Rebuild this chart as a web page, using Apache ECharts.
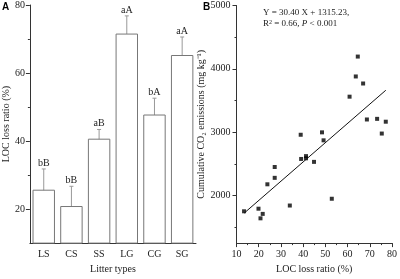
<!DOCTYPE html>
<html><head><meta charset="utf-8">
<script src="https://cdn.jsdelivr.net/npm/echarts@6/dist/echarts.min.js"></script>
<style>html,body{margin:0;padding:0;background:#fff}#c{width:400px;height:279px}</style>
</head><body><div id="c"></div>
<script>
var categories = ['LS','CS','SS','LG','CG','SG'];
var lossMeans = [25.7, 20.9, 40.7, 71.6, 47.8, 65.3];
var lossErrors = [6.1, 5.8, 2.7, 5.2, 4.8, 5.3];
var letters = ['bB','bB','aB','aA','bA','aA'];
var yTicksA = [20, 40, 60, 80];
var yMinorA = [30, 50, 70];

var locX = [64.6, 63.7, 67.0, 60.9, 68.7, 73.3, 77.2, 38.9, 48.5, 75.4, 49.2, 39.1, 41.3, 41.3, 44.9, 27.2, 27.2, 23.9, 52.9, 34.0, 13.4, 19.9, 21.8, 20.8];
var co2Y = [4194, 3880, 3769, 3561, 3201, 3211, 3166, 2960, 2998, 2979, 2872, 2578, 2623, 2588, 2532, 2451, 2280, 2178, 1950, 1843, 1752, 1793, 1711, 1641];
var fitX = [13.4, 77.2];
var fitY = [1722, 3662];
var yTicksB = [2000, 3000, 4000, 5000];
var yMinorB = [1500, 2500, 3500, 4500];

var serif = 'Liberation Serif';
var axisCol = '#333';
var chart = echarts.init(document.getElementById('c'), null, {renderer:'canvas'});

var scatterData = locX.map(function(x,i){return [x, co2Y[i]];});
var fitData = fitX.map(function(x,i){return [x, fitY[i]];});
var plain = function(v){return String(v);};

chart.setOption({
  animation:false,
  textStyle:{fontFamily:serif},
  grid:[
    {left:26, top:5, width:170, height:245},
    {left:236.5, top:5.5, width:157.5, height:245.5}
  ],
  xAxis:[
    {type:'category', gridIndex:0, data:categories, boundaryGap:true,
     axisLine:{lineStyle:{color:axisCol,width:1}}, axisTick:{show:false},
     axisLabel:{color:'#222', fontSize:10, fontFamily:serif, margin:6},
     name:'Litter types', nameLocation:'middle', nameGap:20,
     nameTextStyle:{color:'#222', fontSize:10, fontFamily:serif}},
    {type:'value', gridIndex:1, min:10, max:80, interval:10,
     axisLine:{lineStyle:{color:axisCol}}, splitLine:{show:false},
     axisTick:{show:true, inside:false, length:4, lineStyle:{color:axisCol}},
     minorTick:{show:true, splitNumber:2, length:2, lineStyle:{color:axisCol}},
     axisLabel:{color:'#222', fontSize:10, fontFamily:serif, margin:6, formatter:plain},
     name:'LOC loss ratio (%)', nameLocation:'middle', nameGap:20,
     nameTextStyle:{color:'#222', fontSize:10, fontFamily:serif}}
  ],
  yAxis:[
    {type:'value', gridIndex:0, position:'left', min:10, max:80,
     axisLine:{show:true, lineStyle:{color:axisCol}}, splitLine:{show:false},
     axisTick:{show:true, length:4, customValues:yTicksA, lineStyle:{color:axisCol}},
     axisLabel:{color:'#222', fontSize:10, fontFamily:serif, margin:5, customValues:yTicksA, formatter:plain},
     name:'LOC loss ratio (%)', nameLocation:'middle', nameGap:17,
     nameTextStyle:{color:'#222', fontSize:10, fontFamily:serif}},
    {type:'value', gridIndex:0, position:'left', min:10, max:80,
     axisLine:{show:false}, splitLine:{show:false},
     axisTick:{show:true, length:2, customValues:yMinorA, lineStyle:{color:axisCol}},
     axisLabel:{show:false, customValues:yMinorA}},
    {type:'value', gridIndex:1, position:'left', min:1250, max:5000,
     axisLine:{show:true, lineStyle:{color:axisCol}}, splitLine:{show:false},
     axisTick:{show:true, length:4, customValues:yTicksB, lineStyle:{color:axisCol}},
     axisLabel:{color:'#222', fontSize:10, fontFamily:serif, margin:6, customValues:yTicksB, formatter:plain},
     name:'Cumulative CO\u2082 emissions (mg kg\u207B\u00B9)', nameLocation:'middle', nameGap:25,
     nameTextStyle:{color:'#222', fontSize:10, fontFamily:serif}},
    {type:'value', gridIndex:1, position:'left', min:1250, max:5000,
     axisLine:{show:false}, splitLine:{show:false},
     axisTick:{show:true, length:2, customValues:yMinorB, lineStyle:{color:axisCol}},
     axisLabel:{show:false, customValues:yMinorB}}
  ],
  series:[
    {type:'bar', xAxisIndex:0, yAxisIndex:0, data:lossMeans, barWidth:'81%',
     itemStyle:{color:'#fff', borderColor:'#777', borderWidth:1}},
    {type:'custom', xAxisIndex:0, yAxisIndex:0,
     data:lossMeans.map(function(m,i){return [i, m-lossErrors[i], m+lossErrors[i]];}),
     renderItem:function(params, api){
       var i = api.value(0);
       var lo = api.coord([i, api.value(1)]);
       var hi = api.coord([i, api.value(2)]);
       var c = '#999';
       return {type:'group', children:[
         {type:'line', shape:{x1:lo[0],y1:lo[1],x2:hi[0],y2:hi[1]}, style:{stroke:c,lineWidth:1}},
         {type:'line', shape:{x1:lo[0]-2,y1:lo[1],x2:lo[0]+2,y2:lo[1]}, style:{stroke:c,lineWidth:1}},
         {type:'line', shape:{x1:hi[0]-2,y1:hi[1],x2:hi[0]+2,y2:hi[1]}, style:{stroke:c,lineWidth:1}},
         {type:'text', x:hi[0], y:hi[1]-1, style:{text:letters[i], fill:'#222', font:'10px "Liberation Serif"', align:'center', verticalAlign:'bottom'}}
       ]};
     }},
    {type:'line', xAxisIndex:1, yAxisIndex:2, data:fitData, symbol:'none',
     lineStyle:{color:'#111', width:1}},
    {type:'scatter', xAxisIndex:1, yAxisIndex:2, data:scatterData, symbol:'rect', symbolSize:4,
     itemStyle:{color:'#000'}}
  ],
  graphic:[
    {type:'text', left:2, top:2, style:{text:'A', fill:'#000', font:'bold 10px "Liberation Sans"'}},
    {type:'text', left:203, top:2, style:{text:'B', fill:'#000', font:'bold 10px "Liberation Sans"'}},
    {type:'text', left:263, top:8, style:{text:'Y = 30.40 X + 1315.23,', fill:'#222', font:'9px "Liberation Serif"'}},
    {type:'text', left:263, top:19, style:{
      text:'{n|R}{s|2}{n| = 0.66, }{i|P}{n| < 0.001}',
      rich:{n:{fontFamily:serif,fontSize:9,fill:'#222'}, s:{fontFamily:serif,fontSize:6,fill:'#222',verticalAlign:'top',padding:[0,0,4,0]}, i:{fontFamily:serif,fontSize:9,fontStyle:'italic',fill:'#222'}}
    }}
  ]
});
</script></body></html>
